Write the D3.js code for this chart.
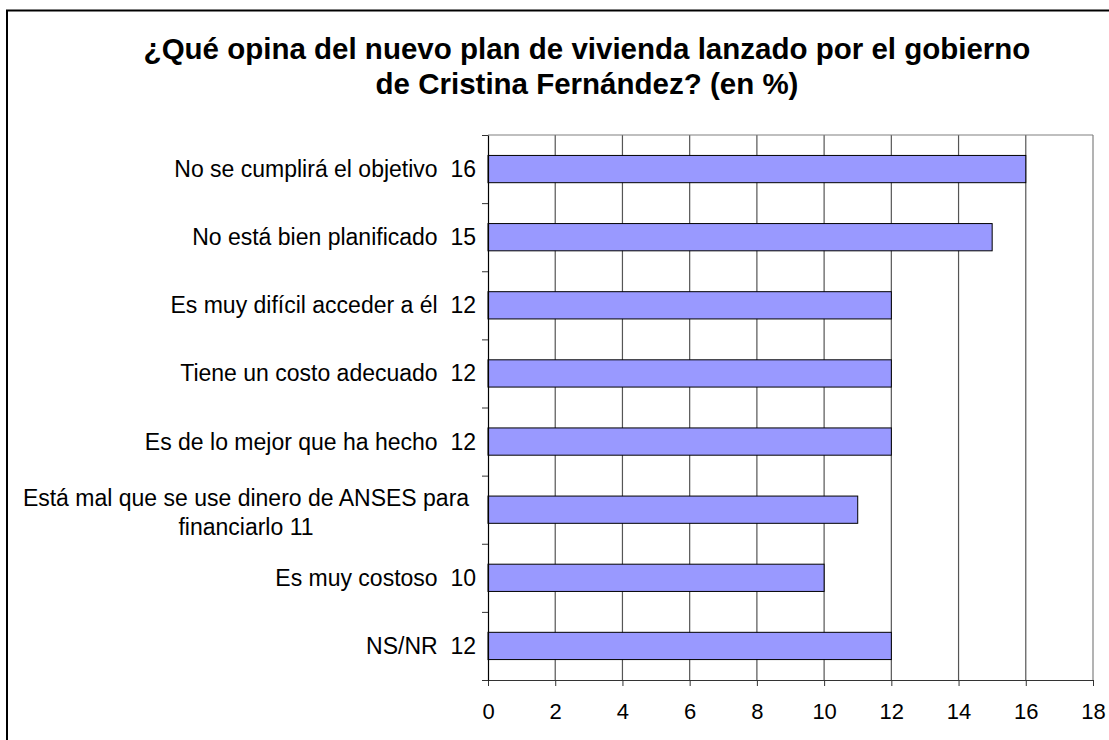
<!DOCTYPE html>
<html>
<head>
<meta charset="utf-8">
<script src="https://cdn.jsdelivr.net/npm/d3@7"></script>
<style>
  body { margin: 0; background: #fff; }
  text { font-family: "Liberation Sans", Arial, sans-serif; fill: #000; }
</style>
</head>
<body>
<div id="chart"></div>
<script>
const titleLines = [
  '¿Qué opina del nuevo plan de vivienda lanzado por el gobierno',
  'de Cristina Fernández? (en %)'
];
const categories = [
  ['No se cumplirá el objetivo'],
  ['No está bien planificado'],
  ['Es muy difícil acceder a él'],
  ['Tiene un costo adecuado'],
  ['Es de lo mejor que ha hecho'],
  ['Está mal que se use dinero de ANSES para', 'financiarlo'],
  ['Es muy costoso'],
  ['NS/NR']
];
const values = [16, 15, 12, 12, 12, 11, 10, 12];
const xTicks = [0, 2, 4, 6, 8, 10, 12, 14, 16, 18];

const W = 1109, H = 740;
const margin = { top: 135, right: 16, bottom: 60, left: 488 };

const svg = d3.select('#chart').append('svg')
  .attr('width', W)
  .attr('height', H);

// outer frame of the chart object
svg.append('path')
  .attr('d', `M7,${H + 5} V10.5 H${W + 5}`)
  .attr('fill', 'none')
  .attr('stroke', '#000')
  .attr('stroke-width', 2);

// title
svg.append('g')
  .selectAll('text')
  .data(titleLines)
  .join('text')
  .attr('x', 587)
  .attr('y', (d, i) => 59 + i * 35)
  .attr('text-anchor', 'middle')
  .style('font-weight', 'bold')
  .style('font-size', '29.5px')
  .text(d => d);

const x = d3.scaleLinear()
  .domain([0, 18])
  .range([margin.left, 1093]);

const yBounds = d3.scaleLinear()
  .domain([0, categories.length])
  .range([margin.top, 680]);

const y = d3.scaleBand()
  .domain(d3.range(categories.length))
  .range([margin.top, 680]);

// vertical gridlines
svg.append('g')
  .selectAll('line')
  .data(xTicks.slice(1))
  .join('line')
  .attr('x1', d => x(d))
  .attr('x2', d => x(d))
  .attr('y1', yBounds(0))
  .attr('y2', yBounds(categories.length))
  .attr('stroke', d => d === 18 ? '#808080' : '#555')
  .attr('stroke-width', 1.2);

// top border of plot area
svg.append('line')
  .attr('x1', x(0)).attr('x2', x(18))
  .attr('y1', yBounds(0)).attr('y2', yBounds(0))
  .attr('stroke', '#808080')
  .attr('stroke-width', 1.2);

// bars
const barH = y.bandwidth() * 0.4;
svg.append('g')
  .selectAll('rect')
  .data(values)
  .join('rect')
  .attr('x', x(0))
  .attr('y', (d, i) => y(i) + (y.bandwidth() - barH) / 2)
  .attr('width', d => x(d) - x(0))
  .attr('height', barH)
  .attr('fill', '#9999FF')
  .attr('stroke', '#000')
  .attr('stroke-width', 1);

// x axis
const xAxis = svg.append('g')
  .attr('transform', `translate(0,${yBounds(categories.length)})`)
  .call(d3.axisBottom(x).tickValues(xTicks).tickSize(6).tickSizeOuter(0).tickPadding(17));
xAxis.select('.domain').attr('stroke', '#333').attr('stroke-width', 1.2);
xAxis.selectAll('.tick line').attr('stroke', '#333');
xAxis.selectAll('text').style('font-size', '22px').attr('fill', '#000');

// y axis with ticks at category boundaries
const yAxis = svg.append('g')
  .attr('transform', `translate(${x(0)},0)`)
  .call(d3.axisLeft(yBounds).tickValues(d3.range(categories.length + 1)).tickFormat('').tickSize(6).tickSizeOuter(0));
yAxis.select('.domain').attr('stroke', '#000').attr('stroke-width', 1.2);
yAxis.selectAll('.tick line').attr('stroke', '#333');

// category labels with values
const labels = svg.append('g')
  .selectAll('text')
  .data(categories)
  .join('text')
  .style('font-size', '23px')
  .style('white-space', 'pre')
  .attr('text-anchor', d => d.length > 1 ? 'middle' : 'end');

labels.each(function (d, i) {
  const t = d3.select(this);
  const cy = y(i) + y.bandwidth() / 2;
  if (d.length === 1) {
    t.attr('x', 476).attr('y', cy + 8).text(d[0] + '  ' + values[i]);
  } else {
    t.selectAll('tspan')
      .data([d[0], d[1] + ' ' + values[i]])
      .join('tspan')
      .attr('x', 246)
      .attr('y', (s, j) => cy - 4 + j * 29)
      .text(s => s);
  }
});
</script>
</body>
</html>
